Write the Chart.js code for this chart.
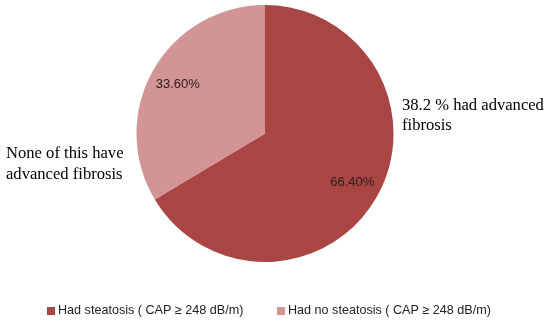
<!DOCTYPE html>
<html>
<head>
<meta charset="utf-8">
<script src="https://cdn.jsdelivr.net/npm/chart.js@4"></script>
<style>
  html, body { margin: 0; padding: 0; background: #fff; }
  #wrap { position: relative; width: 550px; height: 322px; }
</style>
</head>
<body>
<div id="wrap"><canvas id="chart" width="550" height="322"></canvas></div>
<script>
const labels = ["Had steatosis ( CAP \u2265 248 dB/m)", "Had no steatosis ( CAP \u2265 248 dB/m)"];
const values = [66.4, 33.6];
const valueLabels = ["66.40%", "33.60%"];
const colors = ["#A94644", "#D29494"];
const noteRight = ["38.2 % had advanced", "fibrosis"];
const noteLeft = ["None of this have", "advanced fibrosis"];

// value labels inside slices
const sliceLabels = {
  id: "sliceLabels",
  afterDatasetsDraw(chart) {
    const ctx = chart.ctx;
    const meta = chart.getDatasetMeta(0);
    ctx.save();
    ctx.font = "13px 'Liberation Sans', sans-serif";
    ctx.fillStyle = "#2a1c1c";
    ctx.textAlign = "center";
    ctx.textBaseline = "middle";
    meta.data.forEach((arc, i) => {
      const mid = (arc.startAngle + arc.endAngle) / 2;
      const r = arc.outerRadius * 0.78;
      ctx.fillText(valueLabels[i], arc.x + Math.cos(mid) * r, arc.y + Math.sin(mid) * r);
    });
    ctx.restore();
  },
};

// side notes and bottom legend
const extras = {
  id: "extras",
  afterDraw(chart) {
    const ctx = chart.ctx;
    ctx.save();
    ctx.font = "16.6px 'Liberation Serif', serif";
    ctx.fillStyle = "#000";
    ctx.textBaseline = "middle";
    ctx.textAlign = "left";
    noteRight.forEach((t, i) => ctx.fillText(t, 402, 106 + i * 20));
    noteLeft.forEach((t, i) => ctx.fillText(t, 6, 154 + i * 21));

    ctx.font = "12.6px 'Liberation Sans', sans-serif";
    const xs = [47, 277];
    labels.forEach((t, i) => {
      ctx.fillStyle = colors[i];
      ctx.fillRect(xs[i], 307, 8, 8);
      ctx.fillStyle = "#222";
      ctx.fillText(t, xs[i] + 11, 311);
    });
    ctx.restore();
  },
};

new Chart(document.getElementById("chart"), {
  type: "pie",
  data: {
    labels: labels,
    datasets: [
      {
        data: values,
        backgroundColor: colors,
        borderWidth: 0,
      },
    ],
  },
  options: {
    responsive: false,
    animation: false,
    layout: { padding: { top: 5, bottom: 60, left: 0, right: 20 } },
    plugins: {
      legend: { display: false },
      tooltip: { enabled: false },
    },
  },
  plugins: [sliceLabels, extras],
});
</script>
</body>
</html>
